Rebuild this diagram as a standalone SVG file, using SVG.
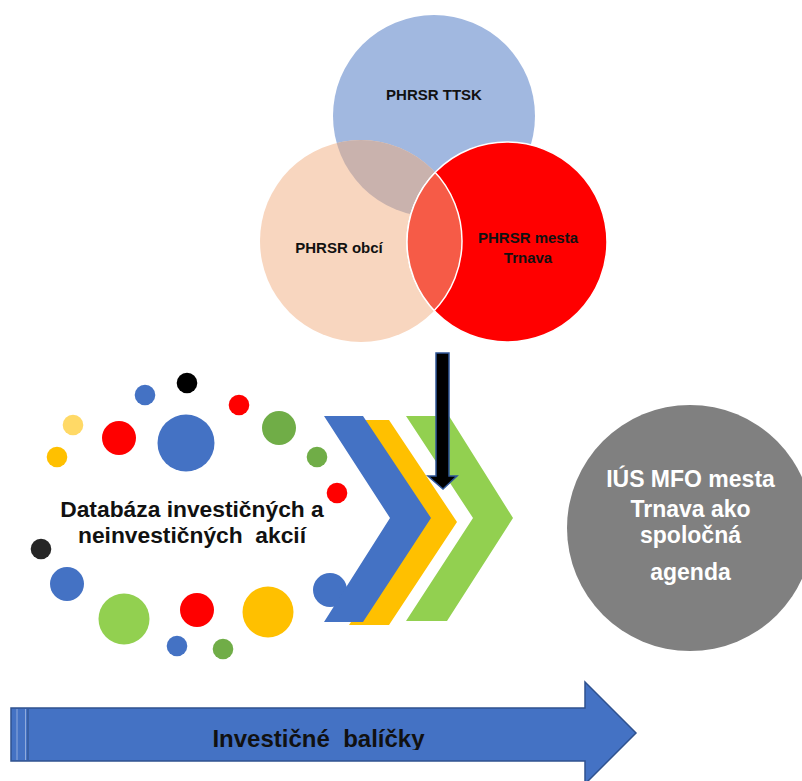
<svg xmlns="http://www.w3.org/2000/svg" width="802" height="781" viewBox="0 0 802 781">
<style>
.t{font-family:"Liberation Sans",Arial,sans-serif;font-weight:bold;text-anchor:middle;white-space:pre}
.dk{fill:#111111}
.wh{fill:#FFFFFF}
.b{fill:#4472C4}.r{fill:#FF0000}.g{fill:#70AD47}.lg{fill:#92D050}.y{fill:#FFC000}.ly{fill:#FFD966}.k{fill:#000000}.k2{fill:#262626}
</style>
<defs>
<clipPath id="cpPeach"><circle cx="361" cy="241" r="101"/></clipPath>
<clipPath id="cpRed"><circle cx="507" cy="242" r="100"/></clipPath>
<clipPath id="cpText"><rect x="0" y="0" width="802" height="750"/></clipPath>
</defs>
<rect width="802" height="781" fill="#FFFFFF"/>

<g id="venn-ttsk">
<circle cx="434" cy="116" r="101" fill="#A1B8E0"/>
</g>
<g id="venn-obci">
<circle cx="361" cy="241" r="101" fill="#F8D6BF"/>
<circle cx="434" cy="116" r="101" fill="#C9B2AD" clip-path="url(#cpPeach)"/>
</g>
<g id="venn-mesta">
<circle cx="507" cy="242" r="100" fill="#FF0000" stroke="#FFFFFF" stroke-width="1.5"/>
<circle cx="507" cy="242" r="100" fill="#F65B47" stroke="#FFFFFF" stroke-width="1.5" clip-path="url(#cpPeach)"/>
<circle cx="361" cy="241" r="101" fill="none" stroke="#FFFFFF" stroke-width="1.5" clip-path="url(#cpRed)"/>
</g>
<g id="venn-labels">
<text class="t dk" x="434" y="100" font-size="15">PHRSR TTSK</text>
<text class="t dk" x="339" y="253" font-size="15">PHRSR obcí</text>
<text class="t dk" x="528" y="243" font-size="15">PHRSR mesta</text>
<text class="t dk" x="528" y="263" font-size="15">Trnava</text>
</g>

<g id="database">
<circle class="k" cx="187" cy="383" r="10.3"/>
<circle class="b" cx="145" cy="395" r="10.3"/>
<circle class="r" cx="239" cy="405" r="10.3"/>
<circle class="ly" cx="73" cy="425" r="10.3"/>
<circle class="r" cx="119" cy="438" r="17"/>
<circle class="b" cx="186" cy="443" r="28.5"/>
<circle class="g" cx="279" cy="428" r="17"/>
<circle class="y" cx="57" cy="457" r="10.3"/>
<circle class="g" cx="317" cy="457" r="10.3"/>
<circle class="r" cx="337" cy="493" r="10.3"/>
<circle class="k2" cx="41" cy="549" r="10.3"/>
<circle class="b" cx="67" cy="584" r="17"/>
<circle class="lg" cx="124" cy="619" r="25.5"/>
<circle class="r" cx="197" cy="610" r="17"/>
<circle class="y" cx="268" cy="612" r="25.5"/>
<circle class="b" cx="177" cy="646" r="10.3"/>
<circle class="g" cx="223" cy="649" r="10.3"/>
<circle class="b" cx="330" cy="590" r="17"/>
<text class="t dk" x="192" y="517" font-size="22.8">Databáza investičných a</text>
<text class="t dk" x="192" y="543" font-size="22.8">neinvestičných  akcií</text>
</g>

<g id="chevrons">
<polygon fill="#92D050" points="406,416 449,416 513,518 447,621 406,621 473,518"/>
<polygon fill="#FFC000" points="349,420 389,420 457,522 389,625 349,625 417,522"/>
<polygon fill="#4472C4" points="324,416 363,416 431,518 363,622 324,622 390,518"/>
</g>

<g id="ius">
<circle cx="690" cy="528" r="123" fill="#808080"/>
<text class="t wh" x="690.5" y="487" font-size="23">IÚS MFO mesta</text>
<text class="t wh" x="690.5" y="517" font-size="23">Trnava ako</text>
<text class="t wh" x="690.5" y="543" font-size="23">spoločná</text>
<text class="t wh" x="690.5" y="580" font-size="23">agenda</text>
</g>

<g id="balicky">
<path d="M11,708 H585 V682 L636,733 L585,784 V761 H11 Z" fill="#4472C4" stroke="#2F528F" stroke-width="1.5"/>
<line x1="17" y1="709" x2="17" y2="760" stroke="#8FAADC" stroke-width="1"/>
<line x1="25.5" y1="709" x2="25.5" y2="760" stroke="#8FAADC" stroke-width="1"/>
<line x1="28" y1="709" x2="28" y2="760" stroke="#2F528F" stroke-width="1.2"/>
<text class="t dk" x="318.5" y="747" font-size="24" clip-path="url(#cpText)">Investičné  balíčky</text>
</g>

<g id="connectors">
<path d="M436,353 H449 V476 H457 L443,489 L428,476 H436 Z" fill="#000000" stroke="#2F5597" stroke-width="1.5" stroke-linejoin="miter"/>
</g>
</svg>
